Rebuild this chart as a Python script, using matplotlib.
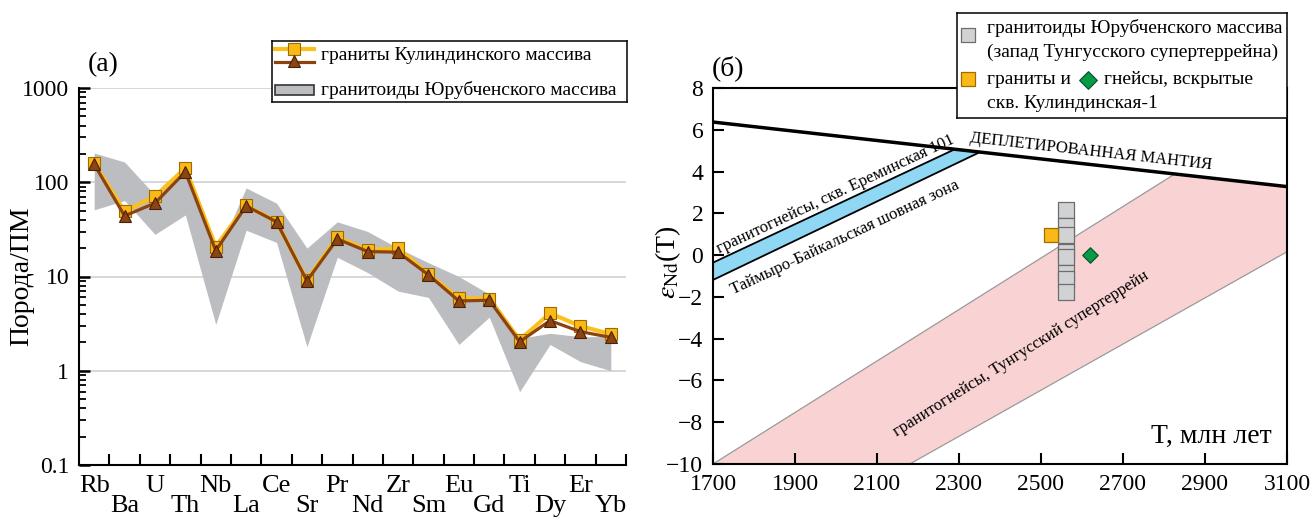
import matplotlib.pyplot as plt
import numpy as np
from matplotlib.patches import Polygon, Rectangle
from matplotlib.transforms import ScaledTranslation
from matplotlib.ticker import NullFormatter

plt.rcParams['font.family'] = ['Liberation Serif', 'DejaVu Serif']
plt.rcParams['mathtext.fontset'] = 'stix'

# (а) spider diagram, rock / primitive mantle
elements = ['Rb', 'Ba', 'U', 'Th', 'Nb', 'La', 'Ce', 'Sr', 'Pr', 'Nd',
            'Zr', 'Sm', 'Eu', 'Gd', 'Ti', 'Dy', 'Er', 'Yb']
kul_granite_1 = [159, 49, 71, 141, 20.7, 57, 38, 9.2, 26, 19.1,
                 19.9, 10.6, 5.9, 5.8, 2.12, 4.07, 2.98, 2.45]
kul_granite_2 = [155, 44, 60, 129, 18.8, 56, 38, 9.0, 25, 18.4,
                 18.1, 10.4, 5.5, 5.6, 2.03, 3.4, 2.6, 2.26]
yur_upper = [204, 164, 73, 146, 16, 87, 60, 20, 38, 30,
             20, 14, 10, 6.5, 2.2, 2.5, 2.3, 2.3]
yur_lower = [51, 64, 28, 45, 3.1, 31, 23, 1.8, 16, 11,
             7, 6, 1.9, 3.7, 0.6, 1.9, 1.25, 1.0]

# (б) eps Nd(T) vs T
dm_T = [1700, 3100]
dm_e = [6.37, 3.28]
erem_T = [1700, 2290, 2351, 1700]
erem_e = [-0.36, 5.07, 4.93, -1.19]
tung_T = [1700, 2826, 3100, 3100, 2180]
tung_e = [-10, 3.88, 3.28, 0.16, -10]
yur_e = [2.15, 1.4, 0.95, 0.15, -0.1, -0.85, -1.15, -1.75]
yur_T = [2560] * len(yur_e)
kul_T, kul_e = [2524], [0.98]
gneiss_T, gneiss_e = [2620], [0.0]

YELLOW = '#fbc11a'
BROWN = '#8c4310'
GRAY = '#bcbdc1'

W, H = 1313, 517
fig = plt.figure(figsize=(W / 100, H / 100), dpi=100)


def px_axes(x0, y0, x1, y1):
    return fig.add_axes([x0 / W, 1 - y1 / H, (x1 - x0) / W, (y1 - y0) / H])


#plot 1:
ax1 = px_axes(79, 88, 626, 465)
x = np.arange(len(elements))
ax1.fill_between(x, yur_lower, yur_upper, color=GRAY, lw=0, zorder=1)
ax1.plot(x, kul_granite_1, color=YELLOW, lw=3, marker='s', ms=8,
         mfc='#fbb917', mec='#9c6c00', mew=0.8, zorder=3)
ax1.plot(x, kul_granite_2, color=BROWN, lw=2.3, marker='^', ms=9,
         mfc='#8b4513', mec='#4a2008', mew=0.8, zorder=4)
ax1.set_yscale('log')
ax1.set_ylim(0.1, 1000)
ax1.set_xlim(-0.5, 17.5)
ax1.set_yticks([0.1, 1, 10, 100, 1000])
ax1.set_yticklabels(['0.1', '1', '10', '100', '1000'])
ax1.yaxis.set_minor_formatter(NullFormatter())
ax1.set_xticks(x + 0.5)
ax1.set_xticklabels([])
ax1.set_xticks(x, minor=True)
ax1.set_xticklabels(elements, minor=True)
ax1.grid(axis='y', which='major', color='#d4d4d4', lw=1.3, zorder=0)
ax1.set_axisbelow(True)
for s in ['top', 'right']:
    ax1.spines[s].set_visible(False)
for s in ['left', 'bottom']:
    ax1.spines[s].set_linewidth(1.5)
ax1.tick_params(axis='y', which='major', direction='in', length=8, width=1.8,
                labelsize=17, pad=7)
ax1.tick_params(axis='y', which='minor', direction='in', length=5, width=1.3)
ax1.tick_params(axis='x', which='major', direction='in', length=8, width=1.5)
ax1.tick_params(axis='x', which='minor', length=0, labelsize=19, pad=7)
shift = ScaledTranslation(0, -0.2, fig.dpi_scale_trans)
for lab in ax1.xaxis.get_minorticklabels()[1::2]:
    lab.set_transform(lab.get_transform() + shift)

fig.text(22 / W, 1 - 276 / H, 'Порода/ПМ', rotation=90, ha='center',
         va='center', fontsize=20)
fig.text(103 / W, 1 - 65 / H, '(а)', ha='center', va='center', fontsize=20)

# legend (а)
lg1 = px_axes(272, 41, 627, 102)
lg1.set_xlim(272, 627)
lg1.set_ylim(102, 41)
lg1.set_xticks([])
lg1.set_yticks([])
for s in lg1.spines.values():
    s.set_linewidth(1.1)
lg1.plot([275, 314], [49, 49], color=YELLOW, lw=3)
lg1.plot([294], [49], marker='s', ms=8, mfc='#fbb917', mec='#9c6c00', mew=0.8)
lg1.plot([275, 314], [62, 62], color=BROWN, lw=2.3)
lg1.plot([294], [61], marker='^', ms=9, mfc='#8b4513', mec='#4a2008', mew=0.8)
lg1.text(321, 55, 'граниты Кулиндинского массива', va='center', fontsize=14)
lg1.add_patch(Rectangle((275, 85), 39, 10, fc=GRAY, ec='#333333', lw=1.2))
lg1.text(321, 90, 'гранитоиды Юрубченского массива', va='center', fontsize=14)

#plot 2:
ax2 = px_axes(713, 88, 1287, 464)
ax2.set_xlim(1700, 3100)
ax2.set_ylim(-10, 8)
ax2.add_patch(Polygon(np.column_stack([tung_T, tung_e]), fc='#f9d3d3',
                      ec='#9a9a9a', lw=0.9, zorder=1))
ax2.add_patch(Polygon(np.column_stack([erem_T, erem_e]), fc='#8fd7f3',
                      ec='black', lw=1.3, zorder=2))
ax2.plot(dm_T, dm_e, color='black', lw=2.5, zorder=3)
ax2.scatter(yur_T, yur_e, marker='s', s=117, fc='#d1d2d4', ec='#6d6d6d',
            lw=0.9, zorder=5)
ax2.scatter(kul_T, kul_e, marker='s', s=110, fc='#fbb917', ec='#a06e00',
            lw=0.9, zorder=6)
ax2.scatter(gneiss_T, gneiss_e, marker='D', s=62, fc='#079b48', ec='#04572a',
            lw=0.9, zorder=6)
ax2.set_xticks(np.arange(1700, 3101, 200))
ax2.set_yticks(np.arange(-10, 9, 2))
for s in ax2.spines.values():
    s.set_linewidth(1.5)
ax2.tick_params(direction='in', length=8, width=1.5, labelsize=17, pad=7)

slope_dm = (dm_e[1] - dm_e[0]) / (dm_T[1] - dm_T[0])
slope_erem = (erem_e[1] - erem_e[0]) / (erem_T[1] - erem_T[0])
slope_tung = (tung_e[1] - tung_e[0]) / (tung_T[1] - tung_T[0])


def along(xd, yd, slope, txt, fs=12):
    ax2.text(xd, yd, txt, rotation=np.degrees(np.arctan(slope)),
             transform_rotates_text=True, rotation_mode='anchor',
             ha='center', va='center', fontsize=fs, zorder=4)


along(2622, 4.94, slope_dm, 'ДЕПЛЕТИРОВАННАЯ МАНТИЯ')
along(2000, 2.9, slope_erem, 'гранитогнейсы, скв. Ереминская 101')
along(2022, 0.85, slope_erem, 'Таймыро-Байкальская шовная зона')
along(2451, -4.73, slope_tung, 'гранитогнейсы, Тунгусский супертеррейн')
ax2.text(3063, -8.7, 'T, млн лет', ha='right', va='center', fontsize=20)

fig.text(668 / W, 1 - 262 / H, r'$\varepsilon_{\mathrm{Nd}}$(T)', rotation=90,
         ha='center', va='center', fontsize=20)
fig.text(728 / W, 1 - 68 / H, '(б)', ha='center', va='center', fontsize=20)

# legend (б)
lg2 = px_axes(957, 13, 1287, 118)
lg2.set_xlim(957, 1287)
lg2.set_ylim(118, 13)
lg2.set_xticks([])
lg2.set_yticks([])
for s in lg2.spines.values():
    s.set_linewidth(1.1)
lg2.scatter([968], [35], marker='s', s=100, fc='#d1d2d4', ec='#6d6d6d', lw=0.9)
lg2.text(987, 28, 'гранитоиды Юрубченского массива', va='center', fontsize=14)
lg2.text(987, 52, '(запад Тунгусского супертеррейна)', va='center', fontsize=14)
lg2.scatter([968], [79], marker='s', s=100, fc='#fbb917', ec='#a06e00', lw=0.9)
lg2.text(987, 80, 'граниты и', va='center', fontsize=14)
lg2.scatter([1088], [80], marker='D', s=80, fc='#079b48', ec='#04572a', lw=0.9)
lg2.text(1104, 80, 'гнейсы, вскрытые', va='center', fontsize=14)
lg2.text(987, 103, 'скв. Кулиндинская-1', va='center', fontsize=14)

fig.savefig('out.png', dpi=100)
